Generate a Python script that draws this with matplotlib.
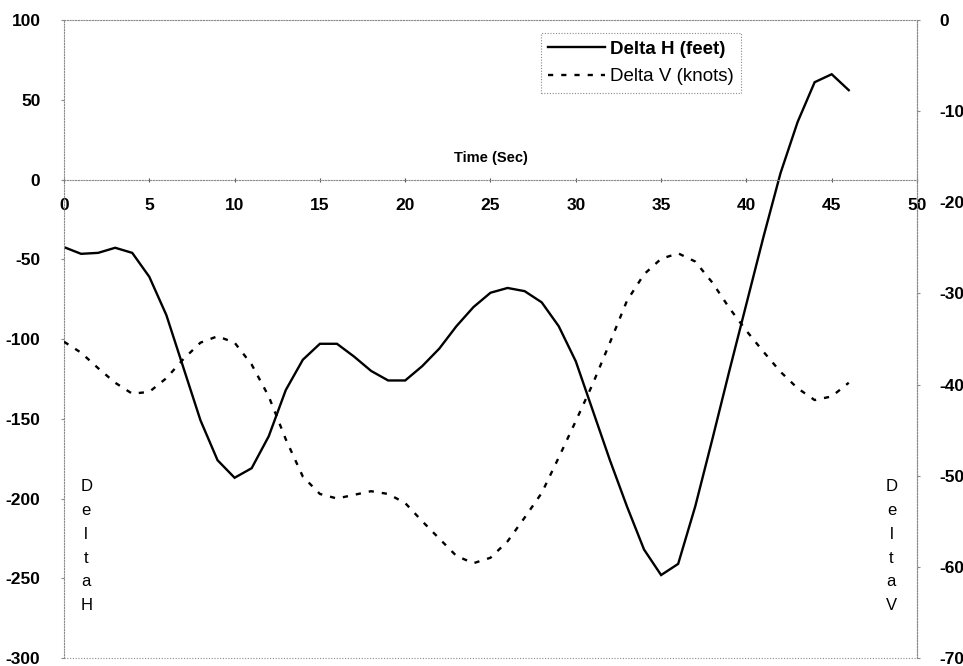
import matplotlib
matplotlib.use("Agg")
import matplotlib.pyplot as plt
from matplotlib.lines import Line2D

plt.rcParams['font.family'] = ['Liberation Sans', 'DejaVu Sans']
plt.rcParams['axes.unicode_minus'] = False

# ---- data ----
time_sec = list(range(0, 47))
delta_h_feet = [-42.4, -46.6, -46, -42.8, -46, -61, -85, -118, -151, -176,
                -187, -181, -161, -132, -113, -103, -103, -111, -120, -126,
                -126, -117, -106, -92, -80, -71, -68, -70, -77, -92,
                -114, -145, -176, -205, -232, -248, -241, -205, -163, -120,
                -78, -36, 4, 36, 61, 66, 56]
delta_v_knots = [-35.3, -36.5, -38.2, -39.8, -41.0, -40.8, -39.3, -37.2, -35.4, -34.7,
                 -35.4, -37.8, -41.3, -46.0, -50.1, -52.0, -52.5, -52.1, -51.7, -52.0,
                 -53.0, -55.0, -56.9, -58.8, -59.6, -59.0, -57.2, -54.6, -51.9, -48.0,
                 -44.0, -39.9, -35.4, -30.8, -27.9, -26.2, -25.6, -26.5, -28.8, -31.6,
                 -34.1, -36.4, -38.6, -40.4, -41.7, -41.3, -39.8]

x_ticks = [0, 5, 10, 15, 20, 25, 30, 35, 40, 45, 50]
h_ticks = [-300, -250, -200, -150, -100, -50, 0, 50, 100]
v_ticks = [-70, -60, -50, -40, -30, -20, -10, 0]
label_h = "Delta H (feet)"
label_v = "Delta V (knots)"
x_title = "Time (Sec)"

W, H = 963, 666
fig = plt.figure(figsize=(W / 100, H / 100), dpi=100)
L, R, T, B = 64, 917, 20, 658
ax = fig.add_axes([L / W, 1 - B / H, (R - L) / W, (B - T) / H])
ax2 = ax.twinx()

frame_kw = dict(color='#8a8a8a', linestyle=(0, (1, 1.5)), linewidth=0.8)

ax.plot(time_sec, delta_h_feet, color='black', lw=1.7, solid_joinstyle='miter')
ax2.plot(time_sec, delta_v_knots, color='black', lw=1.7,
         linestyle=(0, (2.2, 3.4)))

ax.set_xlim(0, 50)
ax.set_ylim(-300, 100)
ax2.set_ylim(-70, 0)

ax.set_xticks(x_ticks)
ax.set_yticks(h_ticks)
ax2.set_yticks(v_ticks)

for a in (ax, ax2):
    for s in a.spines.values():
        s.set_color('#8a8a8a')
        s.set_linestyle((0, (1, 1.5)))
        s.set_linewidth(0.8)

ax.spines['bottom'].set_position(('data', 0))
ax2.spines['bottom'].set_visible(False)
ax2.spines['top'].set_visible(False)
ax2.spines['left'].set_visible(False)
# bottom border of plot area
ax.plot([0, 1], [0, 0], transform=ax.transAxes, clip_on=False, **frame_kw)

fs = 12.5
ax.tick_params(axis='x', length=3, direction='inout', color='#555555', pad=12,
               labelsize=fs)
ax.tick_params(axis='y', length=2, color='#8a8a8a', pad=15, labelsize=fs)
ax2.tick_params(axis='y', length=2, color='#8a8a8a', pad=14, labelsize=fs)
for lab in ax.get_xticklabels() + ax.get_yticklabels() + ax2.get_yticklabels():
    lab.set_fontweight('bold')

ax.text(25, 9, x_title, ha='center', va='bottom', fontsize=10.5, fontweight='bold')

ax.text(1.3, -188, "\n".join("DeltaH"), ha='center', va='top', fontsize=12,
        linespacing=1.73)
ax.text(48.5, -188, "\n".join("DeltaV"), ha='center', va='top', fontsize=12,
        linespacing=1.73)

handles = [Line2D([], [], color='black', lw=1.7),
           Line2D([], [], color='black', lw=1.7, linestyle=(0, (2.2, 3.4)))]
leg = ax.legend(handles, [label_h, label_v], loc='upper left',
                bbox_to_anchor=(0.559, 0.9796), borderaxespad=0, fontsize=13.5,
                handlelength=3.0, handletextpad=0.3, borderpad=0.4,
                labelspacing=0.55, fancybox=False, framealpha=1)
leg.get_frame().set_edgecolor('#8a8a8a')
leg.get_frame().set_linestyle((0, (1, 1.5)))
leg.get_frame().set_linewidth(0.8)
leg.get_texts()[0].set_fontweight('bold')

fig.savefig("out.png", dpi=100)
